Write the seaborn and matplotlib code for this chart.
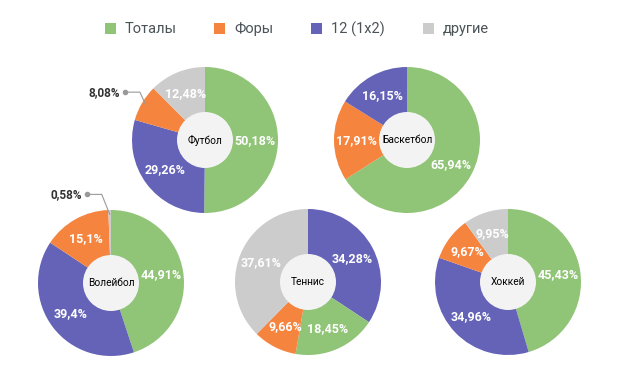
import numpy as np
import seaborn as sns
import matplotlib.pyplot as plt
from matplotlib.patches import Circle, Patch

sns.set_theme(style="white")
plt.rcParams['font.family'] = ['Roboto', 'DejaVu Sans']

# данные
sports = ['Футбол', 'Баскетбол', 'Волейбол', 'Теннис', 'Хоккей']
categories = ['Тоталы', 'Форы', '12 (1x2)', 'другие']
totals = [50.18, 65.94, 44.91, 18.45, 45.43]
fory = [8.08, 17.91, 15.1, 9.66, 9.67]
one_x_two = [29.26, 16.15, 39.4, 34.28, 34.96]
other = [12.48, 0, 0.58, 37.61, 9.95]
# порядок секторов по часовой стрелке от 12 часов
orders = [
    ['Тоталы', '12 (1x2)', 'Форы', 'другие'],
    ['Тоталы', 'Форы', '12 (1x2)'],
    ['Тоталы', '12 (1x2)', 'Форы', 'другие'],
    ['12 (1x2)', 'Тоталы', 'Форы', 'другие'],
    ['Тоталы', '12 (1x2)', 'Форы', 'другие'],
]

colors = dict(zip(categories, sns.color_palette(['#90c476', '#f5843f', '#6563b7', '#cccccc'])))

W, H = 618, 388
centers = [(205, 140), (407, 140), (111, 283), (308, 282), (508, 282)]
R, R_IN = 73, 28
# вынесенные подписи: смещение излома (dx, dy вверх)
outside = {'Футбол': (-6, 13), 'Волейбол': (-8, 20)}

vals = {c: v for c, v in zip(categories, [totals, fory, one_x_two, other])}

fig = plt.figure(figsize=(W / 100, H / 100), dpi=100)
ax = fig.add_axes([0, 0, 1, 1])

for i, sport in enumerate(sports):
    cx, cy = centers[i][0], H - centers[i][1]
    order = orders[i]
    v = [vals[c][i] for c in order]
    wedges, _ = ax.pie(v, colors=[colors[c] for c in order], startangle=90,
                       counterclock=False, radius=R, center=(cx, cy),
                       wedgeprops=dict(linewidth=0))
    ax.add_patch(Circle((cx, cy), R_IN, facecolor='#f3f3f3', edgecolor='none', zorder=3))
    ax.text(cx, cy, sport, ha='center', va='center', fontsize=7.3, color='black', zorder=4)
    for w, val in zip(wedges, v):
        lab = f'{val:g}'.replace('.', ',') + '%'
        mid = np.deg2rad((w.theta1 + w.theta2) / 2)
        if val < 9 and sport in outside:
            dx, dy = outside[sport]
            ex, ey = cx + 0.94 * R * np.cos(mid), cy + 0.94 * R * np.sin(mid)
            bx, by = ex + dx, ey + dy
            ax.plot([ex, bx, bx - 15], [ey, by, by], color='#999999', lw=0.8, zorder=5)
            ax.plot(bx - 15, by, 'o', color='#999999', ms=3, zorder=5)
            ax.text(bx - 20, by, lab, ha='right', va='center', fontsize=8.5,
                    fontweight='bold', color='#333333', zorder=5)
        else:
            r = 0.69 * R
            ax.text(cx + r * np.cos(mid), cy + r * np.sin(mid), lab, ha='center', va='center',
                    fontsize=9, fontweight='bold', color='white', zorder=5)

ax.set_xlim(0, W)
ax.set_ylim(0, H)
ax.set_aspect('equal')
ax.axis('off')

handles = [Patch(facecolor=colors[c], edgecolor='none') for c in categories]
fig.legend(handles, categories, loc='center', bbox_to_anchor=(0.48, 1 - 29 / H), ncol=4,
           frameon=False, fontsize=10.5, handlelength=0.75, handleheight=0.75,
           handletextpad=0.6, columnspacing=2.6, labelcolor='#4a5357')

fig.savefig('out.png', dpi=100)
